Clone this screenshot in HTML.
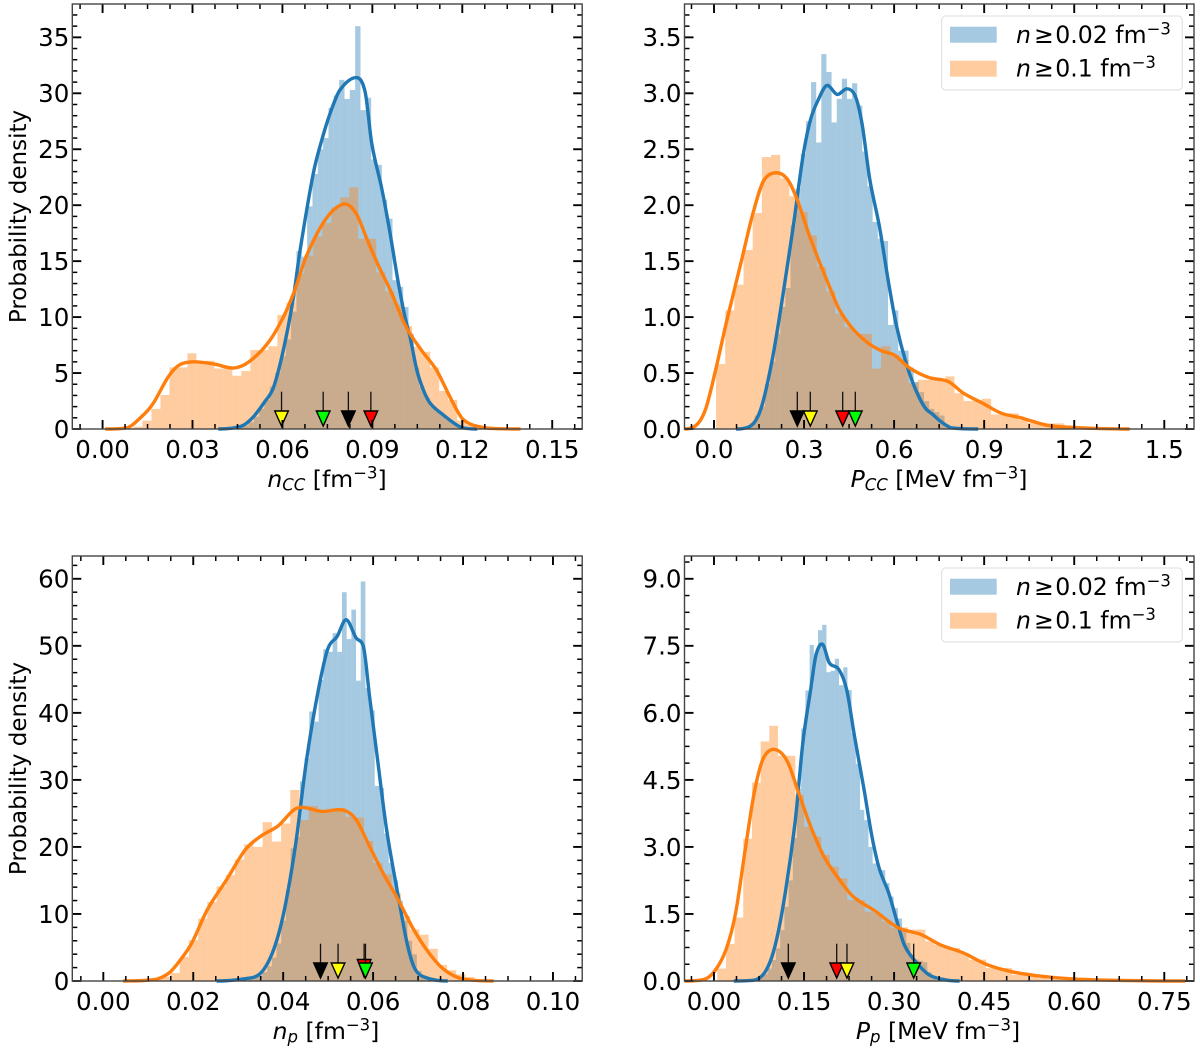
<!DOCTYPE html>
<html lang="en">
<head>
<meta charset="utf-8">
<title>Probability density panels</title>
<style>
html,body{margin:0;padding:0;background:#fff;}
svg{display:block;}
text{font-family:"DejaVu Sans","Liberation Sans",sans-serif;font-size:23.5px;fill:#000;}
text.tick{font-size:24.5px;}
text.leg{font-size:23.6px;}
text.ylab{font-size:23px;}
</style>
</head>
<body>
<svg id="chart" xmlns="http://www.w3.org/2000/svg" width="1200" height="1051" viewBox="0 0 1200 1051">
<rect x="0" y="0" width="1200" height="1051" fill="#fff"/>
</svg>
<script>
/* ---------- panel 1: n_CC ---------- */
const p1XTicks = [0, 0.03, 0.06, 0.09, 0.12, 0.15];
const p1XTickLabels = ["0.00", "0.03", "0.06", "0.09", "0.12", "0.15"];
const p1YTicks = [0, 5, 10, 15, 20, 25, 30, 35];
const p1YTickLabels = ["0", "5", "10", "15", "20", "25", "30", "35"];
const p1XLim = [-0.0101, 0.16];
const p1YLim = [0, 37.98];
const p1BlueBinStart = 0.0451;
const p1BlueBinWidth = 0.00178;
const p1BlueHist = [0.15, 0.3, 0.6, 1.1, 1.8, 2.6, 3.8, 5, 6.5, 8, 10.5, 15.9, 15.4, 19.9, 22.8, 25, 26, 28.7, 29.8, 31.2, 29.5, 30.3, 36, 28.5, 29.6, 24.1, 23.6, 20.5, 18.8, 13.3, 12.7, 10.9, 8.5, 5.5, 3.8, 2.8, 2, 1.6, 1.2, 0.8, 0.5, 0.25, 0.1];
const p1OrangeBinStart = 0.0103;
const p1OrangeBinWidth = 0.003;
const p1OrangeHist = [0.2, 0.75, 1.8, 3.04, 5.5, 5.5, 6.77, 5.9, 6.1, 5.4, 5.4, 4.76, 5.18, 7.06, 7.06, 7.4, 10.2, 11.3, 13.9, 15.5, 17.2, 18.4, 19.8, 20.7, 21.6, 17, 17, 14, 12.3, 11.1, 9.2, 7.35, 6.9, 5.5, 3.4, 2.6, 0.75, 0.35];
const p1BlueKdeX = [0.0386, 0.0462, 0.05, 0.054, 0.057, 0.0603, 0.0635, 0.0659, 0.0703, 0.0731, 0.0759, 0.0792, 0.0848, 0.0876, 0.0898, 0.0932, 0.0959, 0.0987, 0.1009, 0.1026, 0.1048, 0.107, 0.1093, 0.1137, 0.1182, 0.1203, 0.125];
const p1BlueKdeY = [0, 0.24, 1, 2.4, 3.7, 7.06, 11.5, 16, 22.85, 25.8, 28.2, 30.3, 31.4, 30.1, 25.5, 21.4, 17.5, 13, 10, 8.2, 5.3, 3.5, 2.3, 1.25, 0.35, 0.1, 0];
const p1OrangeKdeX = [0.0009, 0.0079, 0.013, 0.0169, 0.022, 0.0258, 0.0303, 0.0373, 0.0437, 0.0488, 0.0552, 0.0603, 0.0641, 0.0679, 0.0743, 0.0804, 0.0845, 0.0883, 0.0922, 0.096, 0.1011, 0.1062, 0.1113, 0.1164, 0.1203, 0.1266, 0.1317, 0.1394];
const p1OrangeKdeY = [0, 0.1, 1.1, 2.3, 4.7, 5.75, 6, 5.8, 5.45, 6, 7.7, 10, 12.4, 15.4, 18.7, 20.1, 19.3, 16.9, 14.5, 12.4, 9.2, 7.1, 5.3, 2.6, 0.85, 0.15, 0.03, 0];
const p1MarkerValues = [0.0597, 0.0736, 0.082, 0.0895];
const p1MarkerColors = ["#ffff00", "#00ff00", "#000000", "#ff0000"];
const p1MarkerNames = ["yellow", "green", "black", "red"];

/* ---------- panel 2: P_CC ---------- */
const p2XTicks = [0, 0.3, 0.6, 0.9, 1.2, 1.5];
const p2XTickLabels = ["0.0", "0.3", "0.6", "0.9", "1.2", "1.5"];
const p2YTicks = [0, 0.5, 1, 1.5, 2, 2.5, 3, 3.5];
const p2YTickLabels = ["0.0", "0.5", "1.0", "1.5", "2.0", "2.5", "3.0", "3.5"];
const p2XLim = [-0.0983, 1.599];
const p2YLim = [0, 3.798];
const p2BlueBinStart = 0.101;
const p2BlueBinWidth = 0.0171;
const p2BlueHist = [0.02, 0.05, 0.12, 0.2, 0.4, 0.6, 0.85, 1.09, 1.26, 1.82, 2.15, 2.46, 2.75, 3.1, 2.56, 3.35, 3.19, 2.74, 2.95, 3.13, 2.95, 3.09, 2.89, 2.48, 2.17, 1.85, 1.7, 1.68, 0.93, 1.06, 0.7, 0.7, 0.55, 0.42, 0.33, 0.25, 0.18, 0.15, 0.12, 0.04, 0.01];
const p2OrangeBinStart = 0.0067;
const p2OrangeBinWidth = 0.03055;
const p2OrangeHist = [0.58, 1.06, 1.29, 1.6, 1.93, 2.43, 2.45, 2.24, 2.08, 1.94, 1.73, 1.45, 1.23, 1.03, 0.91, 0.85, 0.85, 0.54, 0.74, 0.66, 0.62, 0.41, 0.44, 0.44, 0.44, 0.47, 0.32, 0.25, 0.26, 0.27, 0.13, 0.14, 0.14, 0.08, 0.055, 0.05, 0.05, 0.05, 0.02, 0.01, 0.005];
const p2BlueKdeX = [0.073, 0.117, 0.155, 0.194, 0.232, 0.264, 0.296, 0.321, 0.347, 0.376, 0.41, 0.442, 0.468, 0.493, 0.519, 0.551, 0.582, 0.608, 0.64, 0.672, 0.703, 0.729, 0.754, 0.793, 0.88];
const p2BlueKdeY = [0, 0.02, 0.17, 0.62, 1.24, 1.81, 2.43, 2.76, 2.94, 3.07, 2.99, 3.04, 2.99, 2.73, 2.23, 1.81, 1.3, 0.92, 0.59, 0.35, 0.19, 0.13, 0.07, 0.01, 0];
const p2OrangeKdeX = [-0.098, -0.061, -0.029, 0.003, 0.041, 0.092, 0.13, 0.168, 0.209, 0.245, 0.277, 0.315, 0.353, 0.385, 0.417, 0.461, 0.512, 0.557, 0.601, 0.652, 0.716, 0.78, 0.831, 0.895, 0.958, 1.022, 1.111, 1.213, 1.385];
const p2OrangeKdeY = [0, 0.03, 0.17, 0.5, 0.95, 1.51, 1.93, 2.23, 2.29, 2.23, 2.05, 1.75, 1.48, 1.27, 1.07, 0.9, 0.77, 0.7, 0.66, 0.545, 0.46, 0.425, 0.32, 0.23, 0.14, 0.1, 0.033, 0.012, 0];
const p2MarkerValues = [0.2775, 0.3208, 0.4287, 0.4707];
const p2MarkerColors = ["#000000", "#ffff00", "#ff0000", "#00ff00"];
const p2MarkerNames = ["black", "yellow", "red", "green"];

/* ---------- panel 3: n_p ---------- */
const p3XTicks = [0, 0.02, 0.04, 0.06, 0.08, 0.1];
const p3XTickLabels = ["0.00", "0.02", "0.04", "0.06", "0.08", "0.10"];
const p3YTicks = [0, 10, 20, 30, 40, 50, 60];
const p3YTickLabels = ["0", "10", "20", "30", "40", "50", "60"];
const p3XLim = [-0.0069, 0.1065];
const p3YLim = [0, 63.4];
const p3BlueBinStart = 0.0302;
const p3BlueBinWidth = 0.00104;
const p3BlueHist = [0.1, 0.2, 0.3, 0.5, 0.8, 1.3, 2.2, 3.5, 5.6, 9, 13.6, 19.8, 21.5, 29.8, 33.2, 40.2, 38.7, 44.9, 49.5, 49.1, 51.9, 49.1, 58, 51, 55.4, 44.8, 59.6, 43.7, 40.4, 29.1, 28.8, 22, 17.6, 15, 12, 9, 6, 4, 1.5, 0.5, 0.2];
const p3OrangeBinStart = 0.01083;
const p3OrangeBinWidth = 0.00205;
const p3OrangeHist = [0.2, 0.65, 1.2, 3.6, 6.1, 9.3, 11.8, 14.1, 15.8, 18.1, 20.4, 20, 23.7, 20.8, 23.5, 28.5, 24, 26.1, 25.4, 25.3, 25.8, 24.5, 24.4, 20.9, 17.6, 15.9, 13.1, 9.7, 7.7, 6.9, 4.8, 2.4, 1.6, 1, 0.6, 0.3, 0.15, 0.08];
const p3BlueKdeX = [0.0252, 0.0316, 0.0346, 0.0376, 0.0401, 0.0427, 0.0452, 0.0477, 0.0499, 0.052, 0.054, 0.0562, 0.0578, 0.0592, 0.0609, 0.063, 0.0656, 0.0677, 0.0694, 0.072, 0.0766];
const p3BlueKdeY = [0, 0.35, 0.95, 4.2, 10.1, 20.1, 33, 43, 49.5, 51.4, 53.9, 51.2, 50, 42.5, 33.5, 22.6, 12.6, 5.2, 1.7, 0.45, 0];
const p3OrangeKdeX = [0.0044, 0.0112, 0.0146, 0.0172, 0.0197, 0.0231, 0.0274, 0.0316, 0.035, 0.0388, 0.0431, 0.0486, 0.0533, 0.0562, 0.0592, 0.0622, 0.0656, 0.069, 0.0724, 0.0758, 0.08, 0.0868];
const p3OrangeKdeY = [0, 0.2, 1.2, 3.2, 5.7, 10.6, 15.1, 19.6, 21.6, 23.1, 25.8, 25.3, 25.5, 24.1, 20.1, 16.1, 12.1, 7.7, 4.2, 1.7, 0.3, 0];
const p3MarkerValues = [0.0483, 0.0522, 0.058, 0.0583];
const p3MarkerColors = ["#000000", "#ffff00", "#ff0000", "#00ff00"];
const p3MarkerNames = ["black", "yellow", "red", "green"];

/* ---------- panel 4: P_p ---------- */
const p4XTicks = [0, 0.15, 0.3, 0.45, 0.6, 0.75];
const p4XTickLabels = ["0.00", "0.15", "0.30", "0.45", "0.60", "0.75"];
const p4YTicks = [0, 1.5, 3, 4.5, 6, 7.5, 9];
const p4YTickLabels = ["0.0", "1.5", "3.0", "4.5", "6.0", "7.5", "9.0"];
const p4XLim = [-0.0491, 0.7995];
const p4YLim = [0, 9.51];
const p4BlueBinStart = 0.0683;
const p4BlueBinWidth = 0.007;
const p4BlueHist = [0.03, 0.07, 0.15, 0.28, 0.47, 0.73, 1.14, 1.66, 2.25, 3.2, 4.3, 5.65, 6.5, 7.52, 7.33, 7.85, 7.97, 6.91, 6.94, 7.21, 6.62, 7.02, 6.51, 5.54, 4.86, 3.83, 3.6, 3, 2.63, 2.52, 2.48, 2.19, 1.89, 1.63, 1.4, 1.15, 0.85, 0.6, 0.48, 0.45, 0.42, 0.2, 0.06, 0.02];
const p4OrangeBinStart = 0.0055;
const p4OrangeBinWidth = 0.01444;
const p4OrangeHist = [0.28, 0.83, 1.42, 3.18, 4.44, 5.36, 5.71, 5.04, 5.04, 4.16, 3.45, 3.23, 2.82, 2.56, 2.3, 1.81, 1.81, 1.55, 1.51, 1.33, 1.18, 1.2, 1.15, 1.15, 0.89, 0.81, 0.74, 0.74, 0.63, 0.48, 0.48, 0.29, 0.29, 0.29, 0.14, 0.14, 0.12, 0.07, 0.04, 0.03, 0.03, 0.02, 0.01];
const p4BlueKdeX = [0.033, 0.065, 0.084, 0.1, 0.116, 0.135, 0.148, 0.161, 0.17, 0.181, 0.192, 0.208, 0.221, 0.234, 0.25, 0.263, 0.275, 0.291, 0.304, 0.317, 0.333, 0.358, 0.384, 0.409];
const p4BlueKdeY = [0, 0.015, 0.18, 0.7, 1.75, 3.54, 5.33, 6.52, 7.3, 7.53, 7.12, 6.97, 6.52, 5.48, 4.28, 3.24, 2.53, 1.97, 1.37, 0.81, 0.48, 0.14, 0.03, 0];
const p4OrangeKdeX = [-0.049, -0.018, 0.001, 0.02, 0.036, 0.052, 0.068, 0.084, 0.102, 0.122, 0.141, 0.161, 0.183, 0.205, 0.231, 0.269, 0.307, 0.345, 0.377, 0.415, 0.454, 0.492, 0.537, 0.594, 0.67, 0.785];
const p4OrangeKdeY = [0, 0.03, 0.22, 0.7, 1.52, 2.94, 4.28, 5.03, 5.18, 4.92, 4.21, 3.46, 2.79, 2.34, 1.9, 1.56, 1.19, 1.04, 0.81, 0.63, 0.37, 0.22, 0.12, 0.05, 0.015, 0];
const p4MarkerValues = [0.1238, 0.2044, 0.2215, 0.3326];
const p4MarkerColors = ["#000000", "#ff0000", "#ffff00", "#00ff00"];
const p4MarkerNames = ["black", "red", "yellow", "green"];

/* ---------- drawing ---------- */
const NS = "http://www.w3.org/2000/svg";
const svg = document.getElementById("chart");

function mk(tag, attrs, parent) {
  const el = document.createElementNS(NS, tag);
  for (const k in attrs) el.setAttribute(k, attrs[k]);
  parent.appendChild(el);
  return el;
}

/* smooth cubic path through the given pixel points (central-difference tangents, overshoot limited) */
function smoothPath(px, py) {
  const n = px.length;
  const d = [], m = [0];
  for (let i = 0; i < n - 1; i++) d.push((py[i + 1] - py[i]) / (px[i + 1] - px[i]));
  for (let i = 1; i < n - 1; i++) {
    let t = (py[i + 1] - py[i - 1]) / (px[i + 1] - px[i - 1]);
    if (d[i - 1] * d[i] > 0) {
      const lim = 2.6 * Math.min(Math.abs(d[i - 1]), Math.abs(d[i]));
      if (Math.abs(t) > lim) t = Math.sign(t) * lim;
    }
    m.push(t);
  }
  m.push(0);
  let s = "M" + px[0].toFixed(2) + " " + py[0].toFixed(2);
  for (let i = 0; i < n - 1; i++) {
    const h = (px[i + 1] - px[i]) / 3;
    s += "C" + (px[i] + h).toFixed(2) + " " + (py[i] + m[i] * h).toFixed(2) + " " +
      (px[i + 1] - h).toFixed(2) + " " + (py[i + 1] - m[i + 1] * h).toFixed(2) + " " +
      px[i + 1].toFixed(2) + " " + py[i + 1].toFixed(2);
  }
  return s;
}

function drawHist(g, xScale, yScale, start, width, values, color, name) {
  values.forEach(function (v, i) {
    const x0 = xScale(start + i * width);
    const x1 = xScale(start + (i + 1) * width);
    const r = mk("rect", { x: x0, y: yScale(v), width: x1 - x0, height: yScale(0) - yScale(v), fill: color, "fill-opacity": 0.4 }, g);
    
    
  });
}

function drawKde(g, xScale, yScale, xs, ys, color, name) {
  const p = mk("path", { d: smoothPath(xs.map(xScale), ys.map(yScale)), fill: "none", stroke: color, "stroke-width": 3.4, "stroke-linejoin": "round" }, g);
  
  
}

function drawPanel(cfg) {
  const box = cfg.box;
  const xScale = function (v) { return box.l + (v - cfg.xLim[0]) / (cfg.xLim[1] - cfg.xLim[0]) * (box.r - box.l); };
  const yScale = function (v) { return box.b - (v - cfg.yLim[0]) / (cfg.yLim[1] - cfg.yLim[0]) * (box.b - box.t); };
  const g = mk("g", {}, svg);
  
  

  drawHist(g, xScale, yScale, cfg.blueStart, cfg.blueWidth, cfg.blueHist, "#1f77b4", "blue");
  drawHist(g, xScale, yScale, cfg.orangeStart, cfg.orangeWidth, cfg.orangeHist, "#ff7f0e", "orange");
  drawKde(g, xScale, yScale, cfg.blueKdeX, cfg.blueKdeY, "#1f77b4", "blue");
  drawKde(g, xScale, yScale, cfg.orangeKdeX, cfg.orangeKdeY, "#ff7f0e", "orange");

  /* arrow markers */
  cfg.markers.forEach(function (v, i) {
    const x = xScale(v);
    const lift = cfg.lift ? cfg.lift[i] : 0;
    const top = box.b - 37.3, head = box.b - 18 - lift, tip = box.b - 3 - lift * 0.3;
    const mg = mk("g", {}, g);
    
    
    mk("line", { x1: x, x2: x, y1: top, y2: head + 1, stroke: "#111", "stroke-width": 1.3 }, mg);
    mk("polygon", { points: (x - 6.8) + "," + head + " " + (x + 6.8) + "," + head + " " + x + "," + tip, fill: cfg.markerColors[i], stroke: "#000", "stroke-width": 1.4, "stroke-linejoin": "miter" }, mg);
  });

  /* ticks on all four sides */
  const ticks = mk("g", { stroke: "#000" }, g);
  
  
  function tick(x1, y1, x2, y2, w) {
    const t = mk("line", { x1: x1, y1: y1, x2: x2, y2: y2, "stroke-width": w }, ticks);
    
    
  }
  const MAJ = 9, MIN = 5, WMAJ = 1.9, WMIN = 1.5;
  function xTick(v, len, w) { const x = xScale(v); tick(x, box.b, x, box.b - len, w); tick(x, box.t, x, box.t + len, w); }
  function yTick(v, len, w) { const y = yScale(v); tick(box.l, y, box.l + len, y, w); tick(box.r, y, box.r - len, y, w); }

  const xStep = cfg.xTicks[1] - cfg.xTicks[0];
  for (let k = -2; k <= cfg.xTicks.length * cfg.xMinorDiv + 4; k++) {
    const v = cfg.xTicks[0] + k * xStep / cfg.xMinorDiv;
    if (v < cfg.xLim[0] || v > cfg.xLim[1]) continue;
    if (((k % cfg.xMinorDiv) + cfg.xMinorDiv) % cfg.xMinorDiv !== 0) xTick(v, MIN, WMIN);
  }
  const yStep = cfg.yTicks[1] - cfg.yTicks[0];
  for (let k = 0; k <= cfg.yTicks.length * cfg.yMinorDiv + 4; k++) {
    const v = cfg.yTicks[0] + k * yStep / cfg.yMinorDiv;
    if (v > cfg.yLim[1]) continue;
    if (k % cfg.yMinorDiv !== 0) yTick(v, MIN, WMIN);
  }
  cfg.xTicks.forEach(function (v, i) {
    xTick(v, MAJ, WMAJ);
    const t = mk("text", { class: "tick", x: xScale(v), y: box.b + 29, "text-anchor": "middle" }, g);
    t.textContent = cfg.xTickLabels[i];
    
    
  });
  cfg.yTicks.forEach(function (v, i) {
    yTick(v, MAJ, WMAJ);
    const t = mk("text", { class: "tick", x: box.l - 3, y: yScale(v) + 8.9, "text-anchor": "end" }, g);
    t.textContent = cfg.yTickLabels[i];
    
    
  });

  /* frame */
  const frame = mk("rect", { x: box.l, y: box.t, width: box.r - box.l, height: box.b - box.t, fill: "none", stroke: "#444", "stroke-width": 1.4 }, g);
  
  
}

const leftCol = { l: 72.3, r: 582.2 };
const rightCol = { l: 684.5, r: 1194 };
const topRow = { t: 4, b: 429 };
const botRow = { t: 556, b: 981 };

drawPanel({ name: "n-cc", box: { l: leftCol.l, r: leftCol.r, t: topRow.t, b: topRow.b }, xLim: p1XLim, yLim: p1YLim, xTicks: p1XTicks, xTickLabels: p1XTickLabels, yTicks: p1YTicks, yTickLabels: p1YTickLabels, xMinorDiv: 4, yMinorDiv: 5, blueStart: p1BlueBinStart, blueWidth: p1BlueBinWidth, blueHist: p1BlueHist, orangeStart: p1OrangeBinStart, orangeWidth: p1OrangeBinWidth, orangeHist: p1OrangeHist, blueKdeX: p1BlueKdeX, blueKdeY: p1BlueKdeY, orangeKdeX: p1OrangeKdeX, orangeKdeY: p1OrangeKdeY, markers: p1MarkerValues, markerColors: p1MarkerColors, markerNames: p1MarkerNames });
drawPanel({ name: "p-cc", box: { l: rightCol.l, r: rightCol.r, t: topRow.t, b: topRow.b }, xLim: p2XLim, yLim: p2YLim, xTicks: p2XTicks, xTickLabels: p2XTickLabels, yTicks: p2YTicks, yTickLabels: p2YTickLabels, xMinorDiv: 4, yMinorDiv: 5, blueStart: p2BlueBinStart, blueWidth: p2BlueBinWidth, blueHist: p2BlueHist, orangeStart: p2OrangeBinStart, orangeWidth: p2OrangeBinWidth, orangeHist: p2OrangeHist, blueKdeX: p2BlueKdeX, blueKdeY: p2BlueKdeY, orangeKdeX: p2OrangeKdeX, orangeKdeY: p2OrangeKdeY, markers: p2MarkerValues, markerColors: p2MarkerColors, markerNames: p2MarkerNames });
drawPanel({ name: "n-p", box: { l: leftCol.l, r: leftCol.r, t: botRow.t, b: botRow.b }, xLim: p3XLim, yLim: p3YLim, xTicks: p3XTicks, xTickLabels: p3XTickLabels, yTicks: p3YTicks, yTickLabels: p3YTickLabels, xMinorDiv: 4, yMinorDiv: 5, blueStart: p3BlueBinStart, blueWidth: p3BlueBinWidth, blueHist: p3BlueHist, orangeStart: p3OrangeBinStart, orangeWidth: p3OrangeBinWidth, orangeHist: p3OrangeHist, blueKdeX: p3BlueKdeX, blueKdeY: p3BlueKdeY, orangeKdeX: p3OrangeKdeX, orangeKdeY: p3OrangeKdeY, markers: p3MarkerValues, markerColors: p3MarkerColors, markerNames: p3MarkerNames, lift: [0, 0, 3.5, 0] });
drawPanel({ name: "p-p", box: { l: rightCol.l, r: rightCol.r, t: botRow.t, b: botRow.b }, xLim: p4XLim, yLim: p4YLim, xTicks: p4XTicks, xTickLabels: p4XTickLabels, yTicks: p4YTicks, yTickLabels: p4YTickLabels, xMinorDiv: 4, yMinorDiv: 4, blueStart: p4BlueBinStart, blueWidth: p4BlueBinWidth, blueHist: p4BlueHist, orangeStart: p4OrangeBinStart, orangeWidth: p4OrangeBinWidth, orangeHist: p4OrangeHist, blueKdeX: p4BlueKdeX, blueKdeY: p4BlueKdeY, orangeKdeX: p4OrangeKdeX, orangeKdeY: p4OrangeKdeY, markers: p4MarkerValues, markerColors: p4MarkerColors, markerNames: p4MarkerNames });

/* axis titles and legends (static text appended above the panels) */
const overlay = document.createElementNS(NS, "g");


overlay.innerHTML = `
<text class="ylab" transform="translate(26,216.5) rotate(-90)" text-anchor="middle">Probability density</text>
<text class="ylab" transform="translate(26,768.5) rotate(-90)" text-anchor="middle">Probability density</text>

<text x="327" y="487" text-anchor="middle"><tspan font-style="italic">n</tspan><tspan font-style="italic" font-size="16.5" dy="3.5">CC</tspan><tspan dy="-3.5"> [fm</tspan><tspan font-size="16.5" dy="-8.5">−3</tspan><tspan dy="8.5">]</tspan></text>
<text x="939" y="487" text-anchor="middle"><tspan font-style="italic">P</tspan><tspan font-style="italic" font-size="16.5" dy="3.5">CC</tspan><tspan dy="-3.5"> [MeV fm</tspan><tspan font-size="16.5" dy="-8.5">−3</tspan><tspan dy="8.5">]</tspan></text>
<text x="326" y="1039" text-anchor="middle"><tspan font-style="italic">n</tspan><tspan font-style="italic" font-size="16.5" dy="3.5">p</tspan><tspan dy="-3.5"> [fm</tspan><tspan font-size="16.5" dy="-8.5">−3</tspan><tspan dy="8.5">]</tspan></text>
<text x="938" y="1039" text-anchor="middle"><tspan font-style="italic">P</tspan><tspan font-style="italic" font-size="16.5" dy="3.5">p</tspan><tspan dy="-3.5"> [MeV fm</tspan><tspan font-size="16.5" dy="-8.5">−3</tspan><tspan dy="8.5">]</tspan></text>

<g>
  <rect x="941.7" y="16" width="240.5" height="74" rx="4" fill="#fff" fill-opacity="0.8" stroke="#dcdcdc" stroke-width="1"/>
  <rect x="950" y="26.7" width="46.7" height="16" fill="#1f77b4" fill-opacity="0.4"/>
  <text class="leg" x="1016" y="43"><tspan font-style="italic">n</tspan><tspan dx="3">≥</tspan><tspan dx="1.5">0.02 fm</tspan><tspan font-size="16.5" dy="-8.5">−3</tspan></text>
  <rect x="950" y="60.7" width="46.7" height="16" fill="#ff7f0e" fill-opacity="0.4"/>
  <text class="leg" x="1016" y="76.5"><tspan font-style="italic">n</tspan><tspan dx="3">≥</tspan><tspan dx="1.5">0.1 fm</tspan><tspan font-size="16.5" dy="-8.5">−3</tspan></text>
</g>
<g>
  <rect x="941.7" y="568" width="240.5" height="74" rx="4" fill="#fff" fill-opacity="0.8" stroke="#dcdcdc" stroke-width="1"/>
  <rect x="950" y="578.7" width="46.7" height="16" fill="#1f77b4" fill-opacity="0.4"/>
  <text class="leg" x="1016" y="595"><tspan font-style="italic">n</tspan><tspan dx="3">≥</tspan><tspan dx="1.5">0.02 fm</tspan><tspan font-size="16.5" dy="-8.5">−3</tspan></text>
  <rect x="950" y="612.7" width="46.7" height="16" fill="#ff7f0e" fill-opacity="0.4"/>
  <text class="leg" x="1016" y="628.5"><tspan font-style="italic">n</tspan><tspan dx="3">≥</tspan><tspan dx="1.5">0.1 fm</tspan><tspan font-size="16.5" dy="-8.5">−3</tspan></text>
</g>`;
svg.appendChild(overlay);
</script>
</body>
</html>
